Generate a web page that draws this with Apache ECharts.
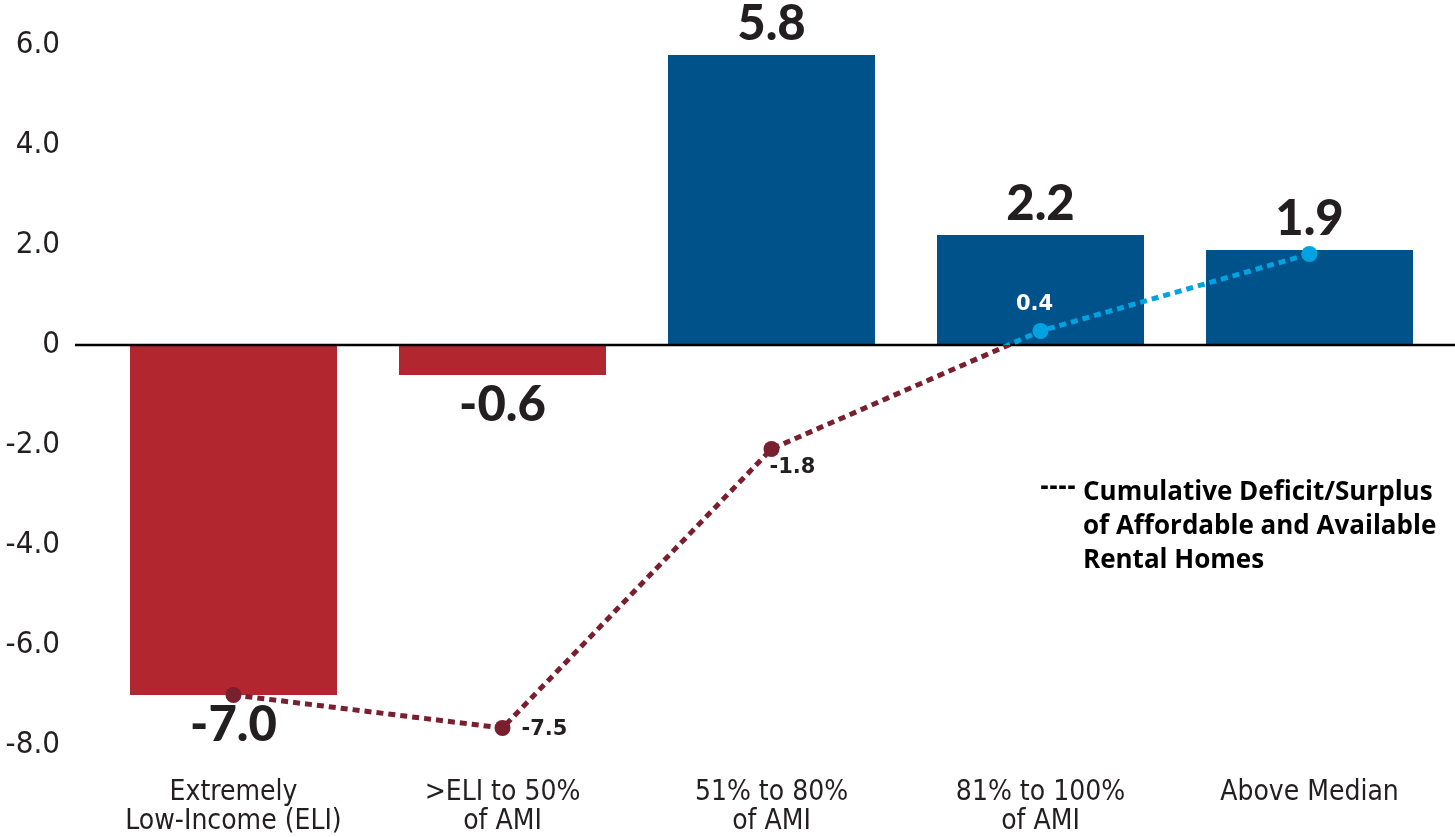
<!DOCTYPE html>
<html>
<head>
<meta charset="utf-8">
<script src="https://cdn.jsdelivr.net/npm/echarts@6/dist/echarts.min.js"></script>
<style>
html,body{margin:0;padding:0;background:#fff;}
#main{width:1455px;height:837px;}
</style>
</head>
<body>
<div id="main"></div>
<script>
// ---- data ----
const categories = ['Extremely\nLow-Income (ELI)', '>ELI to 50%\nof AMI', '51% to 80%\nof AMI', '81% to 100%\nof AMI', 'Above Median'];
const barValues = [-7.0, -0.6, 5.8, 2.2, 1.9];
const cumulativePlotted = [-7.0, -7.66, -2.08, 0.28, 1.82];
const cumulativeLabels = ['', '-7.5', '-1.8', '0.4', ''];
const yTicks = { min: -8, max: 6, interval: 2 };
const legendText = 'Cumulative Deficit/Surplus\nof Affordable and Available\nRental Homes';

const RED = '#b2272f', BLUE = '#00528a', LINE_DARK = '#7a1f2e', LINE_LIGHT = '#00a3e0';
const condensed = "'Liberation Sans Narrow','DejaVu Sans Condensed','Roboto',sans-serif";
const barFont = "'Lato','Open Sans',sans-serif";
const pointFont = "'DejaVu Sans',sans-serif";
const legendFont = "'Open Sans',sans-serif";

const labelCfg = [
  null,
  { position: 'right', offset: [6, 2], color: '#231f20' },
  { position: 'right', offset: [-15, 19], color: '#231f20' },
  { position: 'top', offset: [-6, -3], color: '#ffffff' },
  null
];

const chart = echarts.init(document.getElementById('main'));
const baseOption = {
  animation: false,
  backgroundColor: '#ffffff',
  grid: { left: 99, right: 11, top: 45, bottom: 92, containLabel: false },
  xAxis: {
    type: 'category',
    data: categories,
    axisLine: { show: false, onZero: false },
    axisTick: { show: false },
    axisLabel: {
      margin: 33,
      fontFamily: condensed,
      fontSize: 28,
      lineHeight: 29,
      color: '#231f20',
      interval: 0
    }
  },
  yAxis: {
    type: 'value',
    min: yTicks.min, max: yTicks.max, interval: yTicks.interval,
    splitLine: { show: false },
    axisLine: { show: false },
    axisTick: { show: false },
    axisLabel: {
      margin: 39,
      fontFamily: condensed,
      fontSize: 31,
      color: '#231f20',
      formatter: v => v === 0 ? '0' : v.toFixed(1)
    }
  },
  series: [
    {
      type: 'bar',
      barWidth: 207,
      z: 1,
      data: barValues.map(v => ({
        value: v,
        itemStyle: { color: v < 0 ? RED : BLUE },
        label: {
          show: true,
          position: v < 0 ? 'bottom' : 'top',
          distance: 6,
          formatter: v.toFixed(1),
          fontFamily: barFont,
          fontWeight: 900,
          fontSize: 49,
          color: '#231f20'
        }
      }))
    }
  ]
};
chart.setOption(baseOption);

const H = 837;
const zeroY = chart.convertToPixel({ yAxisIndex: 0 }, 0);
const f = zeroY / H;

chart.setOption({
  series: [
    {},
    {
      type: 'line',
      z: 5,
      symbol: 'circle',
      symbolSize: 16,
      lineStyle: {
        width: 5,
        type: [7, 5],
        color: {
          type: 'linear', global: true, x: 0, y: 0, x2: 0, y2: H,
          colorStops: [
            { offset: 0, color: LINE_LIGHT },
            { offset: f, color: LINE_LIGHT },
            { offset: f, color: LINE_DARK },
            { offset: 1, color: LINE_DARK }
          ]
        }
      },
      data: cumulativePlotted.map((v, i) => {
        const item = { value: v, itemStyle: { color: v < 0 ? LINE_DARK : LINE_LIGHT } };
        if (labelCfg[i] && cumulativeLabels[i]) {
          item.label = Object.assign({
            show: true,
            formatter: cumulativeLabels[i],
            fontFamily: pointFont,
            fontWeight: 'bold',
            fontSize: 21
          }, labelCfg[i]);
        }
        return item;
      })
    }
  ],
  graphic: [
    { type: 'line', z: 3, shape: { x1: 75, y1: zeroY, x2: 1455, y2: zeroY }, style: { stroke: '#000', lineWidth: 2.5 } },
    { type: 'text', left: 1040, top: 476, style: { text: '----', font: "bold 24px 'DejaVu Sans Condensed'", fill: '#000' } },
    { type: 'text', left: 1083, top: 476, style: { text: legendText, font: "700 26px " + legendFont, lineHeight: 34, fill: '#000' } }
  ]
});
</script>
</body>
</html>
